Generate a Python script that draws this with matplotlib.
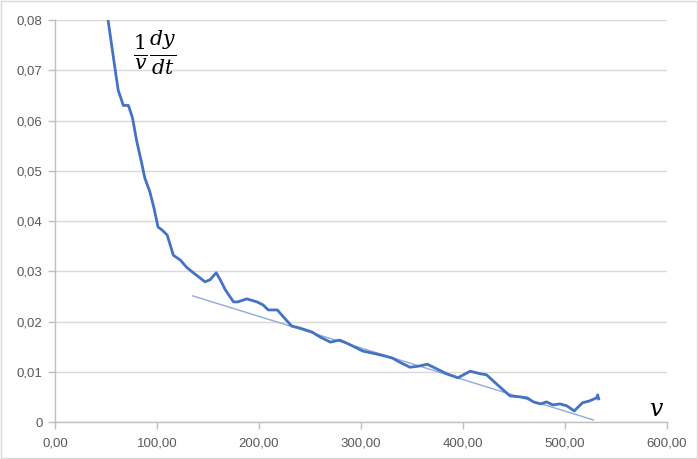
import numpy as np
import matplotlib.pyplot as plt
from matplotlib.ticker import FuncFormatter, MultipleLocator
from matplotlib.patches import Rectangle

# values
v = [52, 59, 62, 67, 72, 76, 80, 85, 88, 93,
     97, 101, 105, 110, 113, 116, 123, 129, 135, 142,
     147, 152, 158, 162, 167, 175, 179, 188, 198, 204,
     209, 218, 224, 232, 240, 252, 260, 270, 279, 286,
     294, 302, 316, 324, 331, 338, 348, 356, 365, 373,
     384, 395, 407, 417, 423, 436, 446, 456, 463, 469,
     476, 482, 488, 495, 502, 509, 517, 524, 531, 532,
     533]
rate = [0.080, 0.0701, 0.066, 0.063, 0.063, 0.0605, 0.056, 0.0515, 0.0486, 0.0458,
        0.0426, 0.0388, 0.0382, 0.0372, 0.0352, 0.0332, 0.0322, 0.0308, 0.0298, 0.0287,
        0.0279, 0.0283, 0.0297, 0.0283, 0.0263, 0.0239, 0.0239, 0.0245, 0.0239, 0.0233,
        0.0223, 0.0223, 0.0209, 0.0191, 0.0187, 0.0179, 0.0169, 0.0159, 0.0163, 0.0157,
        0.0149, 0.0141, 0.0135, 0.0131, 0.0127, 0.0119, 0.0109, 0.0111, 0.0115, 0.0107,
        0.0096, 0.0088, 0.0101, 0.0096, 0.0094, 0.0070, 0.0052, 0.0050, 0.0048, 0.0040,
        0.0036, 0.0040, 0.0034, 0.0036, 0.0032, 0.0022, 0.0038, 0.0042, 0.0048, 0.0054,
        0.0046]
trend_v = [135, 528]
trend_rate = [0.0251, 0.0004]

grey = '#595959'
plt.rcParams['font.family'] = ['Liberation Sans', 'DejaVu Sans']
plt.rcParams['mathtext.fontset'] = 'dejavuserif'

fig = plt.figure(figsize=(6.98, 4.59), dpi=100)
ax = fig.add_axes([0.0788, 0.0806, 0.8768, 0.8758])

ax.plot(v, rate, color='#4472C4', lw=2, zorder=3)
ax.plot(trend_v, trend_rate, color='#8FAADC', lw=1, zorder=2)

ax.set_xlim(0, 600)
ax.set_ylim(0, 0.08)
ax.xaxis.set_major_locator(MultipleLocator(100))
ax.yaxis.set_major_locator(MultipleLocator(0.01))

def yfmt(val, pos):
    if abs(val) < 1e-12:
        return '0'
    return f'{val:.2f}'.replace('.', ',')

def xfmt(val, pos):
    return f'{val:.2f}'.replace('.', ',')

ax.yaxis.set_major_formatter(FuncFormatter(yfmt))
ax.xaxis.set_major_formatter(FuncFormatter(xfmt))

ax.grid(axis='y', color='#d9d9d9', lw=1)
ax.set_axisbelow(True)
for s in ['top', 'right']:
    ax.spines[s].set_visible(False)
for s in ['left', 'bottom']:
    ax.spines[s].set_color('#bfbfbf')
    ax.spines[s].set_linewidth(1)
ax.tick_params(axis='both', colors='#bfbfbf', labelcolor=grey, labelsize=9.5,
               length=5, width=1, direction='out')
ax.tick_params(axis='x', pad=6)
ax.tick_params(axis='y', pad=4)

ax.text(98, 0.0735, r'$\frac{1}{v}\frac{dy}{dt}$', fontsize=21, ha='center', va='center',
        color='black')
ax.text(590, 0.0024, r'$v$', fontsize=17, ha='center', va='center', color='black')

fig.patches.append(Rectangle((0.001, 0.002), 0.997, 0.996, transform=fig.transFigure,
                             fill=False, edgecolor='#d9d9d9', lw=1))

fig.savefig('out.png', dpi=100)
